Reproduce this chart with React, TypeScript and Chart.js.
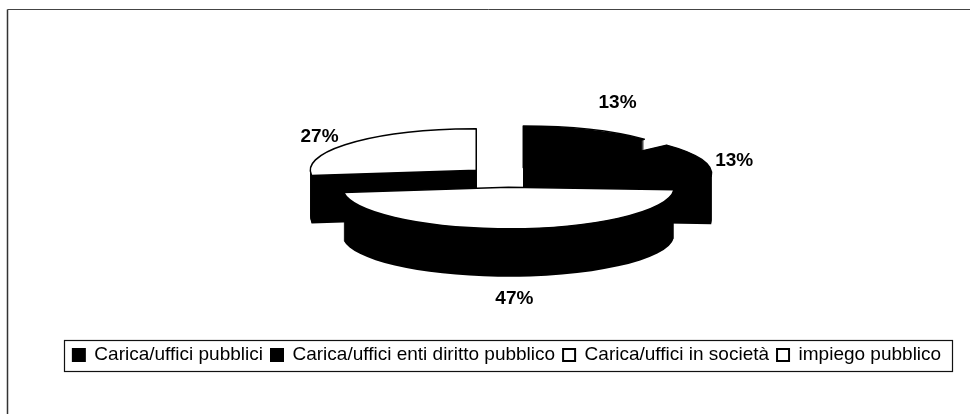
import { useEffect, useRef } from "react";
import { Chart, registerables } from "chart.js";

Chart.register(...registerables);

// ---- data ----
const categories = [
  "Carica/uffici pubblici",
  "Carica/uffici enti diritto pubblico",
  "Carica/uffici in società",
  "impiego pubblico",
];
const shares = [13, 13, 47, 27];
const topColors = ["#000000", "#000000", "#ffffff", "#ffffff"];
const legendFills = ["#000000", "#000000", "#ffffff", "#ffffff"];

// ---- 3D look ----
const FONT = "'Liberation Sans', Arial, Helvetica, sans-serif";
const TILT = 0.25;
const DEPTH = 48;
const EXPLODE = 41;
const RADIUS = 166;
const SIDE = "#000000";

const pie3d = {
  id: "pie3d",
  beforeDatasetsDraw(chart: any) {
    const ctx: CanvasRenderingContext2D = chart.ctx;
    const arcs: any[] = chart.getDatasetMeta(0).data;
    const withT = (arc: any, d: number, fn: () => void) => {
      const mid = (arc.startAngle + arc.endAngle) / 2;
      ctx.save();
      ctx.translate(0, arc.y + d);
      ctx.scale(1, TILT);
      ctx.translate(Math.cos(mid) * EXPLODE, Math.sin(mid) * EXPLODE - arc.y);
      fn();
      ctx.restore();
    };
    const sector = (arc: any) => {
      ctx.beginPath();
      ctx.moveTo(arc.x, arc.y);
      ctx.arc(arc.x, arc.y, arc.outerRadius, arc.startAngle, arc.endAngle);
      ctx.closePath();
    };
    // sides (extrusion)
    for (let d = DEPTH; d >= 1; d--) {
      arcs.forEach((a) =>
        withT(a, d, () => {
          sector(a);
          ctx.fillStyle = SIDE;
          ctx.fill();
        })
      );
    }
    // top faces
    arcs.forEach((a) => withT(a, 0, () => a.draw(ctx)));
    // outlines of top faces
    arcs.forEach((a) => {
      withT(a, 0, () => sector(a));
      ctx.save();
      ctx.lineWidth = 1.5;
      ctx.strokeStyle = "#000";
      ctx.lineJoin = "round";
      ctx.stroke();
      ctx.restore();
    });
    // percentage labels
    const total = shares.reduce((s, v) => s + v, 0);
    ctx.save();
    ctx.font = `bold 19px ${FONT}`;
    ctx.fillStyle = "#000";
    ctx.textAlign = "center";
    ctx.textBaseline = "middle";
    arcs.forEach((a, i) => {
      const mid = (a.startAngle + a.endAngle) / 2;
      const c = Math.cos(mid);
      const s = Math.sin(mid);
      const px = a.x + c * (EXPLODE + a.outerRadius);
      const py = a.y + s * (EXPLODE + a.outerRadius) * TILT + (s > 0 ? s * DEPTH : 0);
      const text = Math.round((shares[i] / total) * 100) + "%";
      const w = ctx.measureText(text).width;
      const h = 13;
      let ux = c;
      let uy = s * TILT;
      const n = Math.hypot(ux, uy) || 1;
      ux /= n;
      uy /= n;
      const dist = 13 + Math.abs(ux) * (w / 2) + Math.abs(uy) * (h / 2);
      const lift = s < 0 ? 5 - 22 * Math.pow(s, 4) : 0;
      ctx.fillText(text, px + ux * dist - (s > 0 ? c * 60 : 0), py + uy * dist + lift);
    });
    ctx.restore();
    return false;
  },
};

const frame = {
  id: "frame",
  afterDraw(chart: any) {
    const ctx: CanvasRenderingContext2D = chart.ctx;
    const lg = chart.legend;
    ctx.save();
    // outer frame (top and left visible)
    ctx.strokeStyle = "#444";
    ctx.lineWidth = 1;
    ctx.beginPath();
    ctx.moveTo(7.5, 9.5);
    ctx.lineTo(chart.width, 9.5);
    ctx.stroke();
    ctx.strokeStyle = "#333";
    ctx.lineWidth = 1.5;
    ctx.beginPath();
    ctx.moveTo(7.5, 9.5);
    ctx.lineTo(7.5, chart.height);
    ctx.stroke();
    // legend border
    if (lg && lg.legendHitBoxes && lg.legendHitBoxes.length) {
      const hb = lg.legendHitBoxes;
      const left = Math.min(...hb.map((h: any) => h.left)) - 9;
      const right = Math.max(...hb.map((h: any) => h.left + h.width)) + 11;
      const cy = hb[0].top + hb[0].height / 2;
      ctx.strokeStyle = "#111";
      ctx.lineWidth = 1.2;
      ctx.strokeRect(Math.round(left) + 0.5, Math.round(cy - 15) + 0.5, Math.round(right - left), 31);
    }
    ctx.restore();
  },
};

export default function App() {
  const ref = useRef<HTMLCanvasElement | null>(null);
  useEffect(() => {
    if (!ref.current) return;
    const chart = new Chart(ref.current, {
      type: "pie",
      data: {
        labels: categories,
        datasets: [
          {
            data: shares,
            backgroundColor: topColors,
            borderWidth: 0,
            offset: 0,
          },
        ],
      },
      options: {
        responsive: false,
        animation: false,
        radius: RADIUS,
        layout: { padding: { top: 16.5, bottom: 39.5, left: 44, right: 0 } },
        plugins: {
          tooltip: { enabled: false },
          legend: {
            display: true,
            position: "bottom",
            labels: {
              boxWidth: 12,
              boxHeight: 12,
              padding: 8,
              color: "#000",
              font: { family: FONT, size: 19 },
              generateLabels: () =>
                categories.map((text, i) => ({
                  text,
                  fillStyle: legendFills[i],
                  strokeStyle: "#000",
                  lineWidth: 2,
                  hidden: false,
                  index: i,
                  fontColor: "#000",
                })),
            },
          },
        },
      } as any,
      plugins: [pie3d, frame],
    });
    return () => chart.destroy();
  }, []);
  return (
    <div style={{ position: "absolute", left: 0, top: 0, width: 970, height: 414, background: "#fff" }}>
      <canvas ref={ref} width={970} height={414} style={{ display: "block" }} />
    </div>
  );
}
